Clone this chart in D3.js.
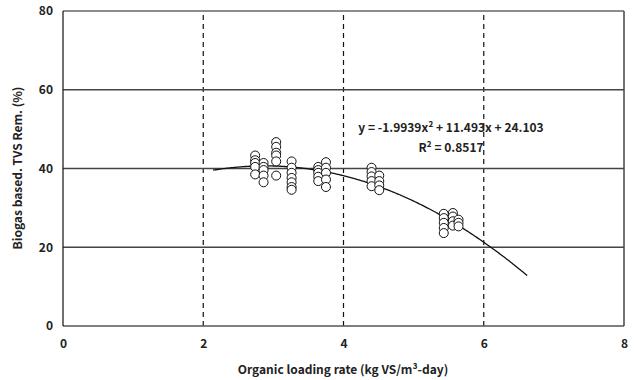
<!DOCTYPE html>
<html><head><meta charset="utf-8">
<script src="https://cdn.jsdelivr.net/npm/d3@7"></script>
<style>body{margin:0;background:#fff}svg text{font-family:"Noto Sans CJK KR","Open Sans",sans-serif;font-weight:bold;fill:#222}</style>
</head><body><svg id="c" width="634" height="380"></svg>
<script>
const xTicks = [0, 2, 4, 6, 8];
const yTicks = [0, 20, 40, 60, 80];
const loadingRates = [2.74, 2.74, 2.74, 2.74, 2.74,
  2.86, 2.86, 2.86, 2.86, 2.86,
  3.04, 3.04, 3.04, 3.04, 3.04, 3.04,
  3.26, 3.26, 3.26, 3.26, 3.26, 3.26, 3.26,
  3.64, 3.64, 3.64, 3.64, 3.64,
  3.75, 3.75, 3.75, 3.75, 3.75,
  4.4, 4.4, 4.4, 4.4, 4.4,
  4.51, 4.51, 4.51, 4.51,
  5.43, 5.43, 5.43, 5.43, 5.43,
  5.56, 5.56, 5.56, 5.56,
  5.64, 5.64, 5.64];
const removals = [43.3, 42.1, 41.4, 40.4, 38.5,
  41.4, 40.4, 39.6, 38.2, 36.5,
  46.7, 45.5, 44.0, 43.3, 41.8, 38.2,
  41.8, 40.2, 38.9, 37.6, 36.5, 35.3, 34.6,
  40.4, 39.6, 38.9, 37.9, 36.8,
  41.6, 40.2, 38.9, 37.2, 35.3,
  40.2, 39.1, 38.0, 36.8, 35.5,
  38.2, 36.8, 35.7, 34.5,
  28.5, 27.4, 26.2, 24.9, 23.6,
  28.7, 27.8, 26.6, 25.5,
  27.0, 26.2, 25.3];
const fitCoeffs = [-1.9939, 11.493, 24.103];
const fitRange = [2.14, 6.62];
const eqLabel = "y = -1.9939x² + 11.493x + 24.103";
const r2Label = "R² = 0.8517";

const svg = d3.select("#c");
const x = d3.scaleLinear().domain([0, 8]).range([63, 624]);
const y = d3.scaleLinear().domain([0, 80]).range([326, 11]);

// vertical dashed grid
svg.append("g").selectAll("line").data([2, 4, 6]).join("line")
  .attr("x1", d => x(d)).attr("x2", d => x(d)).attr("y1", y(0)).attr("y2", y(80))
  .attr("stroke", "#111").attr("stroke-width", 1.2).attr("stroke-dasharray", "5,4");
// horizontal grid
svg.append("g").selectAll("line").data([20, 40, 60, 80]).join("line")
  .attr("x1", x(0)).attr("x2", x(8)).attr("y1", d => y(d)).attr("y2", d => y(d))
  .attr("stroke", d => d === 80 ? "#666" : "#444").attr("stroke-width", 1.5);
// frame
svg.append("line").attr("x1", x(0)).attr("x2", x(8)).attr("y1", y(0)).attr("y2", y(0)).attr("stroke", "#555").attr("stroke-width", 1.5);
svg.append("line").attr("x1", x(8)).attr("x2", x(8)).attr("y1", y(0)).attr("y2", y(80)).attr("stroke", "#444").attr("stroke-width", 1.5);
svg.append("line").attr("x1", x(0)).attr("x2", x(0)).attr("y1", y(0)).attr("y2", y(80)).attr("stroke", "#111").attr("stroke-width", 1.2);

// axes labels via d3 axes
const xAxis = svg.append("g").attr("transform", `translate(0,${y(0)})`)
  .call(d3.axisBottom(x).tickValues(xTicks).tickSize(0).tickPadding(13).tickFormat(d3.format("d")));
xAxis.select(".domain").remove();
xAxis.selectAll("text").attr("font-size", 12);
const yAxis = svg.append("g").attr("transform", `translate(${x(0)},0)`)
  .call(d3.axisLeft(y).tickValues(yTicks).tickSize(0).tickPadding(10).tickFormat(d3.format("d")));
yAxis.select(".domain").remove();
yAxis.selectAll("text").attr("font-size", 12);

// fit curve
const curvePts = d3.range(fitRange[0], fitRange[1] + 0.001, 0.02).map(v => [v, fitCoeffs[0]*v*v + fitCoeffs[1]*v + fitCoeffs[2]]);
svg.append("path").attr("d", d3.line().x(d => x(d[0])).y(d => y(d[1]))(curvePts))
  .attr("fill", "none").attr("stroke", "#111").attr("stroke-width", 1.3);

// points
svg.append("g").selectAll("circle").data(loadingRates.map((v, i) => [v, removals[i]])).join("circle")
  .attr("cx", d => x(d[0])).attr("cy", d => y(d[1])).attr("r", 4.5)
  .attr("fill", "#fff").attr("stroke", "#111").attr("stroke-width", 1);

// equation
svg.append("text").attr("x", 451).attr("y", 132).attr("text-anchor", "middle").attr("font-size", 12).text(eqLabel);
svg.append("text").attr("x", 451).attr("y", 152).attr("text-anchor", "middle").attr("font-size", 12).text(r2Label);

// axis titles
svg.append("text").attr("x", 343).attr("y", 374).attr("text-anchor", "middle").attr("font-size", 12)
  .text("Organic loading rate (kg VS/m³-day)");
svg.append("text").attr("transform", "translate(22,168) rotate(-90)").attr("text-anchor", "middle").attr("font-size", 12)
  .text("Biogas based. TVS Rem. (%)");
</script></body></html>
